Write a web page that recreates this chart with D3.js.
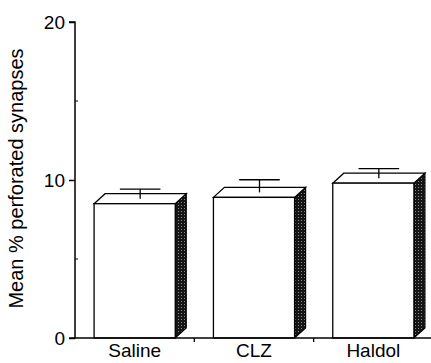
<!DOCTYPE html>
<html>
<head>
<meta charset="utf-8">
<script src="https://cdn.jsdelivr.net/npm/d3@7"></script>
<style>
  html, body { margin: 0; padding: 0; background: #fff; }
  svg { display: block; }
  text { font-family: Arial, "Liberation Sans", Helvetica, sans-serif; fill: #000; }
</style>
</head>
<body>
<svg id="chart" width="431" height="363"></svg>
<script>
const categories = ["Saline", "CLZ", "Haldol"];
const means = [8.5, 8.9, 9.8];
const sems = [0.6, 0.8, 0.6];
const yTicks = [0, 10, 20];
const yMinorTicks = [5, 15];

const svg = d3.select("#chart");
const W = 431, H = 363;
const mLeft = 75, mRight = 433, mTop = 22, mBottom = 338;
const depthX = 11, depthY = 10;

const x = d3.scaleBand().domain(categories).range([mLeft, mRight]).padding(0);
const y = d3.scaleLinear().domain([0, 20]).range([mBottom, mTop]);
const barW = x.bandwidth() * 0.68;

const defs = svg.append("defs");
const pat = defs.append("pattern").attr("id", "stip").attr("patternUnits", "userSpaceOnUse")
  .attr("width", 3).attr("height", 3);
pat.append("rect").attr("width", 3).attr("height", 3).attr("fill", "#151515");
pat.append("rect").attr("x", 1).attr("y", 1).attr("width", 1).attr("height", 1).attr("fill", "#8a8a8a");

const data = categories.map((c, i) => ({ c, m: means[i], s: sems[i] }));

const g = svg.append("g");
data.forEach(d => {
  const x0 = x(d.c) + (x.bandwidth() - barW) / 2;
  const x1 = x0 + barW;
  const yt = y(d.m);
  const yb = y(0);
  g.append("path")
    .attr("d", `M${x1},${yt} L${x1 + depthX},${yt - depthY} L${x1 + depthX},${yb - depthY} L${x1},${yb} Z`)
    .attr("fill", "url(#stip)").attr("stroke", "#000").attr("stroke-width", 1.2);
  g.append("path")
    .attr("d", `M${x0},${yt} L${x0 + depthX},${yt - depthY} L${x1 + depthX},${yt - depthY} L${x1},${yt} Z`)
    .attr("fill", "#fff").attr("stroke", "#000").attr("stroke-width", 1.3);
  g.append("rect")
    .attr("x", x0).attr("y", yt).attr("width", barW).attr("height", yb - yt)
    .attr("fill", "#fff").attr("stroke", "#000").attr("stroke-width", 1.3);
  const cx = x0 + barW / 2 + depthX / 2;
  const ym = yt - depthY / 2;
  const ye = y(d.m + d.s) - depthY / 2;
  const capW = barW / 2;
  g.append("line").attr("x1", cx).attr("x2", cx).attr("y1", ym).attr("y2", ye)
    .attr("stroke", "#000").attr("stroke-width", 1.3);
  g.append("line").attr("x1", cx - capW / 2).attr("x2", cx + capW / 2).attr("y1", ye).attr("y2", ye)
    .attr("stroke", "#000").attr("stroke-width", 1.3);
});

// y axis
const yAxis = d3.axisLeft(y).tickValues(yTicks).tickSize(6).tickPadding(4).tickFormat(d3.format("d"));
const ya = svg.append("g").attr("transform", `translate(${mLeft},0)`).call(yAxis);
ya.select(".domain").attr("stroke", "#000").attr("stroke-width", 1.5).attr("d", `M-6,${mTop}H0V${mBottom}H-6`);
ya.selectAll(".tick line").attr("stroke", "#000").attr("stroke-width", 1.5);
ya.selectAll(".tick text").attr("font-size", 19).style("font-family", "Arial, 'Liberation Sans', sans-serif").attr("fill", "#000");
svg.append("g").selectAll("line").data(yMinorTicks).join("line")
  .attr("x1", mLeft).attr("x2", mLeft + 3).attr("y1", d => y(d)).attr("y2", d => y(d))
  .attr("stroke", "#000").attr("stroke-width", 1);

// x axis
const xAxis = d3.axisBottom(x).tickSize(0).tickPadding(6);
const xa = svg.append("g").attr("transform", `translate(0,${mBottom})`).call(xAxis);
xa.select(".domain").attr("stroke", "#000").attr("stroke-width", 1.5).attr("d", `M${mLeft},0H${W}`);
xa.selectAll(".tick text").attr("font-size", 19).style("font-family", "Arial, 'Liberation Sans', sans-serif").attr("fill", "#000");
svg.append("g").selectAll("line").data(categories.slice(1)).join("line")
  .attr("x1", d => x(d)).attr("x2", d => x(d)).attr("y1", mBottom).attr("y2", mBottom + 4)
  .attr("stroke", "#000").attr("stroke-width", 1.3);

// y axis title
svg.append("text")
  .attr("transform", `translate(23,${(45 + 312) / 2}) rotate(-90)`)
  .attr("text-anchor", "middle")
  .attr("font-size", 20)
  .text("Mean % perforated synapses");
</script>
</body>
</html>
